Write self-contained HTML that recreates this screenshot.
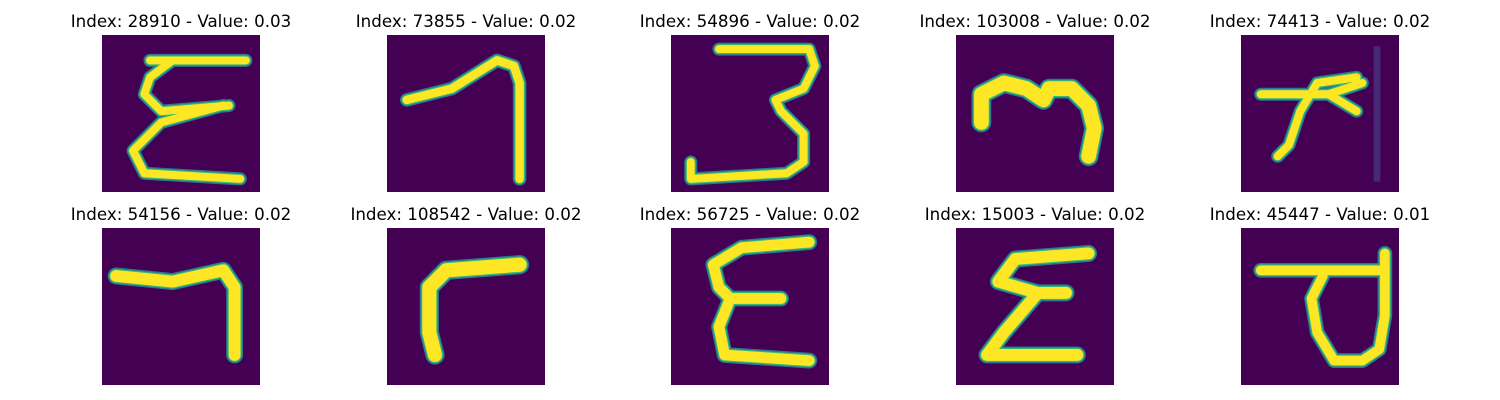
<!DOCTYPE html>
<html><head><meta charset="utf-8"><style>
body{margin:0;background:#fff;width:1500px;height:400px;overflow:hidden;font-family:"DejaVu Sans","Liberation Sans",sans-serif}
svg{position:absolute;left:0;top:0}
</style></head><body>
<svg id="fig" width="1500" height="400"></svg>
<script>
const indices=[28910,73855,54896,103008,74413,54156,108542,56725,15003,45447];
const values=["0.03","0.02","0.02","0.02","0.02","0.02","0.02","0.02","0.02","0.01"];
const widths=[1.4,1.5,1.4,2.6,1.4,2.1,2.5,1.9,2.1,1.7];
const strokes=[
 [[[8,4],[25,4]],[[12,4],[8,7],[7,10],[10,13],[22,12]],[[21,12],[10,15],[5,20],[7,24],[24,25]]],
 [[[3,11],[11,9],[19,4],[22,5],[23,8],[23,25]]],
 [[[8,2],[24,2],[25,5],[23,9],[18,11],[19,13],[23,17],[23,22],[20,24],[3,25],[3,22]]],
 [[[4,15],[4,10],[8,8],[12,9],[15,11],[16,9],[20,9],[23,12],[24,16],[23,21]]],
 [[[3,10],[15,10],[21,8]],[[20,7],[13,8],[10,13],[8,19],[6,21]],[[15,10],[20,13]]],
 [[[2,8],[12,9],[21,7],[23,10],[23,22]]],
 [[[23,6],[10,7],[7,10],[7,18],[8,22]]],
 [[[24,2],[12,3],[7,6],[8,10],[10,12],[19,12]],[[10,12],[8,17],[9,22],[24,23]]],
 [[[23,4],[10,5],[7,9],[14,11],[19,11]],[[14,11],[8,18],[5,22],[21,22]]],
 [[[3,7],[24,7]],[[25,4],[25,15],[24,21],[21,23],[16,23],[13,18],[12,12],[14,8]]]
];
const colX=[102,387,671,956,1241], rowY=[35,228], S=158/28;
const svg=document.getElementById('fig'), NS='http://www.w3.org/2000/svg';
function mk(t,a){const e=document.createElementNS(NS,t);for(const k in a)e.setAttribute(k,a[k]);return e;}
for(let i=0;i<indices.length;i++){
 const x0=colX[i%5], y0=rowY[Math.floor(i/5)];
 const g=mk('g',{});
 
 
 const t=mk('text',{x:x0+79,y:y0-8,'text-anchor':'middle','font-size':'16.7',fill:'#000'});
 t.textContent='Index: '+indices[i]+' - Value: '+values[i];
 
 
 g.appendChild(t);
 const r=mk('rect',{x:x0,y:y0,width:158,height:157,fill:'#440154'});
 
 
 g.appendChild(r);
 if(i===4){const b=mk('rect',{x:x0+23.5*S,y:y0+2*S,width:S*1.2,height:24*S,fill:'#472d7b',opacity:0.9});
  g.appendChild(b);}
 const w=widths[i];
 [[w+0.9,'#2a788e'],[w+0.4,'#35b779'],[w,'#fde725']].forEach(([sw,c])=>{
  strokes[i].forEach(pl=>{
   const p=mk('polyline',{points:pl.map(q=>(x0+(q[0]+0.5)*S)+','+(y0+(q[1]+0.5)*S)).join(' '),fill:'none',stroke:c,'stroke-width':sw*S,'stroke-linecap':'round','stroke-linejoin':'round'});
   
   
   g.appendChild(p);
  });
 });
 svg.appendChild(g);
}
</script>
</body></html>
